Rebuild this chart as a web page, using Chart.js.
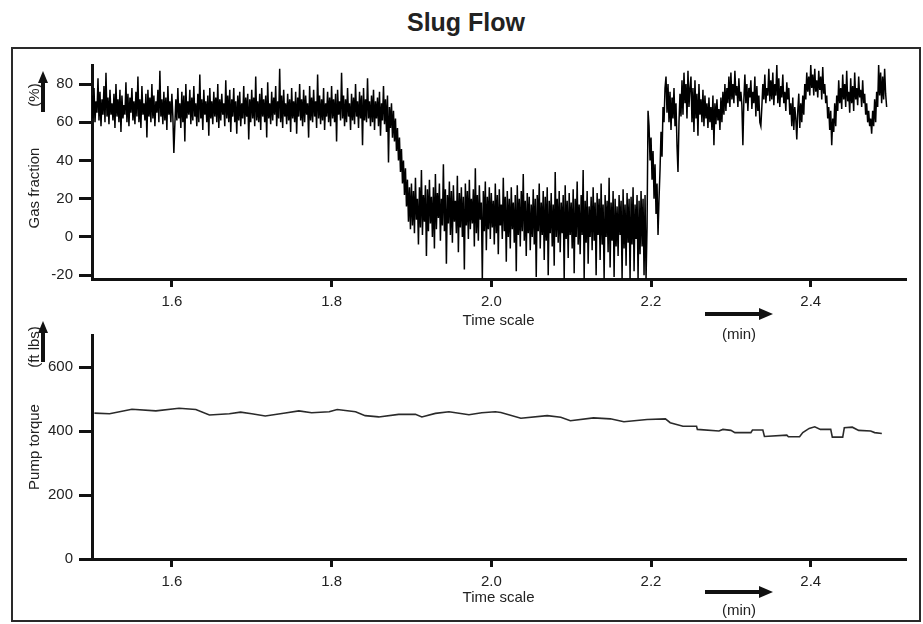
<!DOCTYPE html>
<html>
<head>
<meta charset="utf-8">
<script src="https://cdn.jsdelivr.net/npm/chart.js@4.4.1/dist/chart.umd.min.js"></script>
<style>
body { margin: 0; background: #fff; font-family: "Liberation Sans", Arial, sans-serif; color: #222; }
#page { position: relative; width: 923px; height: 624px; overflow: hidden; }
#frame { position: absolute; left: 11px; top: 47px; width: 910px; height: 575px; border: 2px solid #2a2a2a; box-sizing: border-box; }
canvas { position: absolute; }
.txt { position: absolute; font-size: 15px; line-height: 1; white-space: nowrap; transform: translate(-50%, -50%); }
.rot { transform: translate(-50%, -50%) rotate(-90deg); }
.shaft { position: absolute; background: #111; }
.head-r { position: absolute; width: 0; height: 0; border-left: 14px solid #111; border-top: 6px solid transparent; border-bottom: 6px solid transparent; }
.head-u { position: absolute; width: 0; height: 0; border-bottom: 12px solid #111; border-left: 5px solid transparent; border-right: 5px solid transparent; }
</style>
</head>
<body>
<div id="page">
  <div class="txt" style="left:466px; top:22px; font-size:25px; font-weight:bold;">Slug Flow</div>
  <div id="frame"></div>

  <canvas id="gasChart" width="900" height="290" style="left:14px; top:50px;"></canvas>
  <canvas id="torqueChart" width="900" height="300" style="left:14px; top:320px;"></canvas>

  <!-- y titles and units -->
  <div class="txt rot" style="left:33px; top:188px;">Gas fraction</div>
  <div class="txt rot" style="left:33px; top:95px;">(%)</div>
  <div class="shaft" style="left:41px; top:82px; width:4px; height:30px;"></div>
  <div class="head-u" style="left:38px; top:71px;"></div>

  <div class="txt rot" style="left:33px; top:447px;">Pump torque</div>
  <div class="txt rot" style="left:33px; top:347px;">(ft lbs)</div>
  <div class="shaft" style="left:41px; top:332px; width:4px; height:30px;"></div>
  <div class="head-u" style="left:38px; top:321px;"></div>

  <!-- time unit arrows -->
  <div class="shaft" style="left:705px; top:312px; width:56px; height:4px;"></div>
  <div class="head-r" style="left:759px; top:308px;"></div>
  <div class="txt" style="left:739px; top:333px;">(min)</div>

  <div class="shaft" style="left:705px; top:590px; width:56px; height:4px;"></div>
  <div class="head-r" style="left:759px; top:586px;"></div>
  <div class="txt" style="left:739px; top:609px;">(min)</div>
</div>

<script>
// gas fraction samples, one every 0.00125 min starting at 1.5 min
var gasStart = 1.5;
var gasStep = 0.00125;
var gasFraction = [
  // before the slug (1.50 - 1.876)
  74,62,78,60,71,65,83,61,76,58,72,64,79,60,86,63,73,59,77,64,
  70,61,75,57,80,63,72,60,77,55,74,62,69,64,81,60,75,58,73,65,
  78,61,71,59,76,63,84,60,72,57,79,64,70,61,75,52,77,63,73,60,
  80,62,74,58,71,65,77,60,87,63,72,59,76,61,73,56,79,64,71,60,
  75,63,44,59,72,61,78,62,70,57,76,60,74,50,80,62,71,64,77,59,
  73,61,79,63,70,58,75,60,85,62,72,56,77,64,71,60,74,53,78,62,
  71,59,76,63,73,60,80,57,72,61,75,64,70,58,82,62,74,60,77,55,
  72,63,78,60,71,54,74,61,76,58,70,62,79,59,73,63,75,51,72,60,
  77,62,73,58,84,61,71,60,75,56,78,63,72,60,74,52,81,62,70,59,
  76,61,73,64,79,58,71,62,88,60,74,57,77,63,70,59,75,61,72,55,
  78,62,71,60,76,54,73,63,80,61,72,58,77,60,74,64,70,52,79,61,
  73,60,77,63,71,57,85,62,74,59,72,61,78,56,70,63,76,60,73,58,
  79,62,72,60,75,50,77,64,71,61,86,62,74,58,72,60,78,63,70,56,
  75,61,73,59,80,63,71,57,76,62,74,48,78,61,72,60,83,62,71,58,
  74,60,77,56,71,62,73,58,76,53,70,61,79,59,72,55,74,39,68,57,
  70,52,
  // drop (1.8775 - 1.899)
  66,50,62,45,57,40,52,34,46,28,40,22,36,16,30,8,26,4,
  // slug (1.90 - 2.194)
  28,6,24,2,31,9,20,-4,26,5,35,1,22,8,27,-10,25,3,30,7,
  21,0,26,-6,33,4,23,10,28,-2,20,6,38,3,25,-14,22,7,29,1,
  24,-3,27,8,19,2,32,-8,23,5,26,0,21,-17,28,6,24,-1,30,4,
  20,7,25,-5,36,2,22,-2,27,9,18,-22,24,3,29,-7,21,4,26,-1,
  23,5,19,-4,28,2,22,-9,25,6,17,-1,31,3,21,-13,24,0,20,-6,
  26,4,18,-3,22,-18,27,1,20,-5,24,3,33,-2,19,-10,23,2,21,-7,
  17,0,25,-4,20,-21,22,3,28,-6,18,1,24,-12,21,-2,26,-20,19,2,
  23,-5,17,-15,34,0,20,-3,24,-8,18,2,22,-22,27,-1,19,-11,23,1,
  18,-6,25,-19,20,0,29,-4,17,-9,22,1,35,-22,19,-3,24,-14,16,0,
  21,-7,26,-2,18,-20,23,1,20,-12,28,-4,17,-22,22,0,19,-8,31,-16,
  18,-2,24,-21,20,-5,16,-10,22,1,19,-22,25,-6,17,-15,23,-3,20,-22,
  21,-4,26,-18,17,-1,22,-22,19,-9,24,-5,20,-20,22,-22,
  // recovery (2.195 - 2.249)
  5,66,58,40,52,30,45,20,38,12,28,1,20,35,55,42,68,60,78,84,
  65,80,60,76,56,73,62,78,58,70,48,34,60,75,63,82,64,86,70,80,
  62,87,68,78,
  // after the slug (2.25 - 2.495)
  84,60,78,55,82,62,75,53,80,64,72,60,77,58,74,62,70,57,73,60,
  68,56,74,48,70,59,72,61,67,56,73,60,76,64,80,66,78,70,84,68,
  86,72,80,70,87,74,79,68,83,71,76,69,48,72,85,70,80,66,78,73,
  82,67,76,70,84,63,79,66,74,60,58,68,80,72,85,70,78,74,88,71,
  82,72,86,69,80,74,90,70,83,68,79,73,85,70,76,66,81,72,78,64,
  70,58,73,56,68,62,51,66,75,57,70,60,74,64,80,72,86,76,84,74,
  90,78,85,74,88,76,82,73,87,77,84,72,89,75,80,70,74,62,68,56,
  66,48,62,55,70,58,74,66,82,70,78,67,85,72,80,68,87,71,76,65,
  83,70,79,66,86,72,78,69,84,73,77,68,82,70,75,64,70,60,66,58,
  62,54,66,58,72,60,76,68,90,74,86,70,84,72,88,75,68
];

var torqueTime = [1.503,1.522,1.55,1.58,1.609,1.63,1.647,1.672,1.686,1.70,1.717,1.742,1.759,1.775,1.797,1.807,
  1.83,1.842,1.859,1.884,1.905,1.913,1.93,1.947,1.972,1.988,2.005,2.012,2.037,2.07,2.087,2.099,2.128,2.149,
  2.166,2.195,2.218,2.224,2.24,2.257,2.258,2.285,2.29,2.30,2.305,2.325,2.327,2.34,2.342,2.37,2.372,2.386,
  2.39,2.398,2.405,2.412,2.425,2.427,2.44,2.442,2.452,2.46,2.475,2.48,2.489];
var torque = [456,454,468,463,471,467,450,454,459,454,447,456,463,457,460,467,
  460,448,444,452,452,444,455,460,451,457,460,458,440,448,443,432,441,438,
  429,436,438,426,415,415,405,400,405,402,395,395,403,403,383,387,382,382,
  395,408,413,405,405,381,381,410,412,402,400,395,392];

var timeTicks = [1.6, 1.8, 2.0, 2.2, 2.4];
var gasTicks = [-20, 0, 20, 40, 60, 80];
var torqueTicks = [0, 200, 400, 600];

var fontSpec = { family: '"Liberation Sans", Arial, sans-serif', size: 15 };

function makeChart(canvasId, points, lineColor, lineWidth, yMin, yMax, yStep, padTop, titlePad) {
  var ctx = document.getElementById(canvasId).getContext('2d');
  return new Chart(ctx, {
    type: 'line',
    data: {
      datasets: [{
        data: points,
        borderColor: lineColor,
        borderWidth: lineWidth,
        pointRadius: 0,
        tension: 0,
        fill: false
      }]
    },
    options: {
      responsive: false,
      animation: false,
      layout: { padding: { top: padTop, right: 9, left: 0, bottom: 0 } },
      plugins: { legend: { display: false }, tooltip: { enabled: false } },
      scales: {
        x: {
          type: 'linear',
          min: 1.5,
          max: 2.518,
          afterFit: function(scale) { scale.height = 61; },
          afterBuildTicks: function(scale) {
            scale.ticks = timeTicks.map(function(v) { return { value: v }; });
          },
          border: { display: true, color: '#111', width: 3 },
          grid: { drawOnChartArea: false, drawTicks: true, tickLength: 8, color: '#111', lineWidth: 3 },
          ticks: {
            color: '#222', font: fontSpec, padding: 6, maxRotation: 0,
            callback: function(v) { return Number(v).toFixed(1); }
          },
          title: { display: true, text: 'Time scale', color: '#222', font: fontSpec, padding: { top: 0, bottom: titlePad } }
        },
        y: {
          type: 'linear',
          min: yMin,
          max: yMax,
          afterFit: function(scale) { scale.width = 78; },
          afterBuildTicks: function(scale) {
            scale.ticks = yStep.map(function(v) { return { value: v }; });
          },
          border: { display: true, color: '#111', width: 3 },
          grid: { drawOnChartArea: false, drawTicks: true, tickLength: 13, color: '#111', lineWidth: 3 },
          ticks: { color: '#222', font: fontSpec, padding: 6 }
        }
      }
    }
  });
}

var gasPoints = gasFraction.map(function(v, i) { return { x: gasStart + i * gasStep, y: v }; });
var torquePoints = torque.map(function(v, i) { return { x: torqueTime[i], y: v }; });

makeChart('gasChart', gasPoints, '#000', 1.5, -22, 90, gasTicks, 13, 10.5);
makeChart('torqueChart', torquePoints, '#2a2a2a', 1.6, 0, 700, torqueTicks, 15, 13.5);
</script>
</body>
</html>
